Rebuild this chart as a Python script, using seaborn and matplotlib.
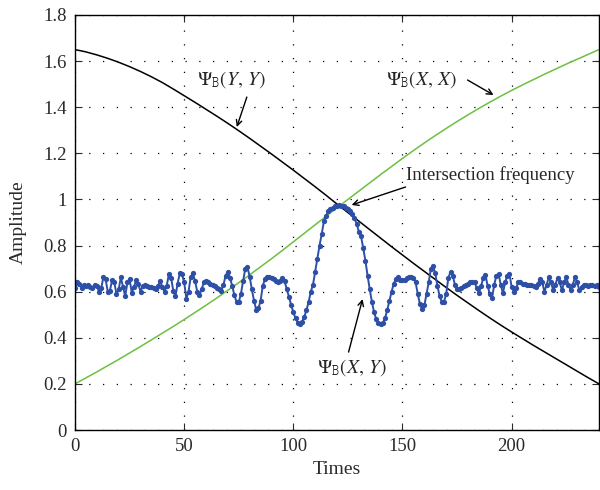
import numpy as np
import pandas as pd
import matplotlib
matplotlib.use("Agg")
import matplotlib.pyplot as plt
import seaborn as sns

# ---- data ----
smooth_x = list(range(0, 241, 5))
psi_yy = [1.650, 1.640, 1.627, 1.612, 1.595, 1.576, 1.555, 1.532, 1.507, 1.479,
          1.450, 1.421, 1.391, 1.361, 1.330, 1.298, 1.265, 1.231, 1.197, 1.162,
          1.127, 1.091, 1.055, 1.018, 0.980, 0.943, 0.906, 0.869, 0.832, 0.795,
          0.759, 0.723, 0.688, 0.653, 0.618, 0.584, 0.551, 0.518, 0.486, 0.455,
          0.425, 0.396, 0.367, 0.339, 0.311, 0.283, 0.255, 0.227, 0.200]
psi_xx = [0.200, 0.226, 0.252, 0.279, 0.306, 0.334, 0.362, 0.391, 0.420, 0.449,
          0.479, 0.510, 0.541, 0.573, 0.606, 0.639, 0.673, 0.708, 0.743, 0.779,
          0.816, 0.853, 0.890, 0.927, 0.964, 1.000, 1.036, 1.072, 1.108, 1.143,
          1.178, 1.212, 1.245, 1.277, 1.308, 1.338, 1.367, 1.395, 1.422, 1.448,
          1.473, 1.497, 1.520, 1.543, 1.565, 1.587, 1.608, 1.629, 1.650]

times = list(range(0, 241))
psi_xy = [
    0.615, 0.640, 0.635, 0.615, 0.628, 0.625, 0.630, 0.620, 0.615, 0.630,  # 0-9
    0.625, 0.600, 0.615, 0.662, 0.655, 0.600, 0.605, 0.650, 0.640, 0.590,  # 10-19
    0.610, 0.662, 0.620, 0.580, 0.640, 0.655, 0.595, 0.620, 0.650, 0.635,  # 20-29
    0.600, 0.625, 0.630, 0.625, 0.620, 0.622, 0.615, 0.612, 0.625, 0.645,  # 30-39
    0.620, 0.600, 0.625, 0.677, 0.660, 0.605, 0.580, 0.635, 0.680, 0.676,  # 40-49
    0.640, 0.570, 0.600, 0.665, 0.680, 0.645, 0.600, 0.585, 0.610, 0.640,  # 50-59
    0.645, 0.640, 0.635, 0.630, 0.625, 0.618, 0.610, 0.605, 0.630, 0.670,  # 60-69
    0.687, 0.660, 0.625, 0.585, 0.555, 0.555, 0.590, 0.647, 0.700, 0.705,  # 70-79
    0.665, 0.610, 0.560, 0.522, 0.527, 0.560, 0.625, 0.655, 0.665, 0.665,  # 80-89
    0.660, 0.655, 0.648, 0.642, 0.648, 0.660, 0.645, 0.610, 0.578, 0.542,  # 90-99
    0.510, 0.485, 0.466, 0.460, 0.470, 0.490, 0.520, 0.555, 0.600, 0.630,  # 100-109
    0.686, 0.740, 0.800, 0.850, 0.905, 0.930, 0.948, 0.958, 0.963, 0.970,  # 110-119
    0.973, 0.975, 0.973, 0.970, 0.965, 0.958, 0.948, 0.935, 0.918, 0.895,  # 120-129
    0.860, 0.840, 0.790, 0.735, 0.670, 0.610, 0.555, 0.510, 0.480, 0.462,  # 130-139
    0.460, 0.465, 0.485, 0.520, 0.560, 0.600, 0.635, 0.655, 0.662, 0.650,  # 140-149
    0.650, 0.652, 0.658, 0.662, 0.665, 0.660, 0.640, 0.590, 0.545, 0.525,  # 150-159
    0.540, 0.590, 0.640, 0.700, 0.710, 0.680, 0.625, 0.580, 0.556, 0.556,  # 160-169
    0.590, 0.660, 0.686, 0.670, 0.630, 0.610, 0.612, 0.618, 0.625, 0.630,  # 170-179
    0.635, 0.640, 0.643, 0.640, 0.615, 0.593, 0.625, 0.660, 0.672, 0.625,  # 180-189
    0.590, 0.571, 0.630, 0.670, 0.677, 0.630, 0.593, 0.640, 0.670, 0.677,  # 190-199
    0.620, 0.600, 0.615, 0.640, 0.643, 0.635, 0.632, 0.630, 0.628, 0.630,  # 200-209
    0.625, 0.620, 0.635, 0.655, 0.640, 0.600, 0.630, 0.662, 0.640, 0.607,  # 210-219
    0.630, 0.660, 0.640, 0.607, 0.640, 0.664, 0.630, 0.607, 0.630, 0.664,  # 220-229
    0.640, 0.607, 0.620, 0.628, 0.630, 0.625, 0.628, 0.630, 0.625, 0.628,  # 230-239
    0.620,                                                                 # 240
]

x_ticks = [0, 50, 100, 150, 200]
y_ticks = [0, 0.2, 0.4, 0.6, 0.8, 1.0, 1.2, 1.4, 1.6, 1.8]
y_tick_labels = ["0", "0.2", "0.4", "0.6", "0.8", "1", "1.2", "1.4", "1.6", "1.8"]

# ---- style ----
sns.set_style("ticks")
plt.rcParams["font.family"] = ["Liberation Serif", "DejaVu Serif"]
plt.rcParams["mathtext.fontset"] = "stix"
plt.rcParams["xtick.direction"] = "in"
plt.rcParams["ytick.direction"] = "in"

fig = plt.figure(figsize=(6.0, 4.9), dpi=100)
ax = fig.add_axes([75 / 600, 60 / 490, 524 / 600, 415 / 490])

sns.lineplot(x=smooth_x, y=psi_yy, ax=ax, color="black", linewidth=1.1)
sns.lineplot(x=smooth_x, y=psi_xx, ax=ax, color="#6cc040", linewidth=1.1)
sns.lineplot(x=times, y=psi_xy, ax=ax, color="#2d4fa6", linewidth=1.4,
             marker="o", markersize=3.8, markeredgewidth=0)

ax.set_xlim(0, 240)
ax.set_ylim(0, 1.8)
ax.set_xticks(x_ticks)
ax.set_yticks(y_ticks)
ax.set_yticklabels(y_tick_labels)
ax.tick_params(axis="both", which="both", direction="in", top=True, right=True,
               labelsize=13.5, length=5, width=0.8, colors="#2a2a2a", pad=6)
for s in ax.spines.values():
    s.set_visible(True)
    s.set_linewidth(1.0)
    s.set_color("black")

ax.grid(True, color="black", linestyle=(0, (1, 10)), linewidth=0.9)
ax.set_xlabel("Times", fontsize=14, color="#2a2a2a", labelpad=4)
ax.set_ylabel("Amplitude", fontsize=14, color="#2a2a2a", labelpad=12)

arrow = dict(arrowstyle="->", color="black", lw=1.0, shrinkA=0, shrinkB=0)
fs = 14
ax.annotate(r"$\Psi_{\mathtt{B}}(Y,\,Y)$", xy=(74.1, 1.314), xytext=(71.8, 1.52),
            ha="center", va="center", fontsize=fs)
ax.annotate("", xy=(74.1, 1.314), xytext=(78.7, 1.444), arrowprops=arrow)

ax.annotate(r"$\Psi_{\mathtt{B}}(X,\,X)$", xy=(191.7, 1.453), xytext=(158.7, 1.52),
            ha="center", va="center", fontsize=fs)
ax.annotate("", xy=(191.7, 1.453), xytext=(179.8, 1.518), arrowprops=arrow)

ax.annotate("Intersection frequency", xy=(126.7, 0.976), xytext=(151.4, 1.106),
            ha="left", va="center", fontsize=13.5)
ax.annotate("", xy=(126.7, 0.976), xytext=(151.4, 1.054), arrowprops=arrow)

ax.annotate(r"$\Psi_{\mathtt{B}}(X,\,Y)$", xy=(131.7, 0.568), xytext=(126.7, 0.269),
            ha="center", va="center", fontsize=fs)
ax.annotate("", xy=(131.7, 0.568), xytext=(125.3, 0.338), arrowprops=arrow)

fig.savefig("out.png", dpi=100)
